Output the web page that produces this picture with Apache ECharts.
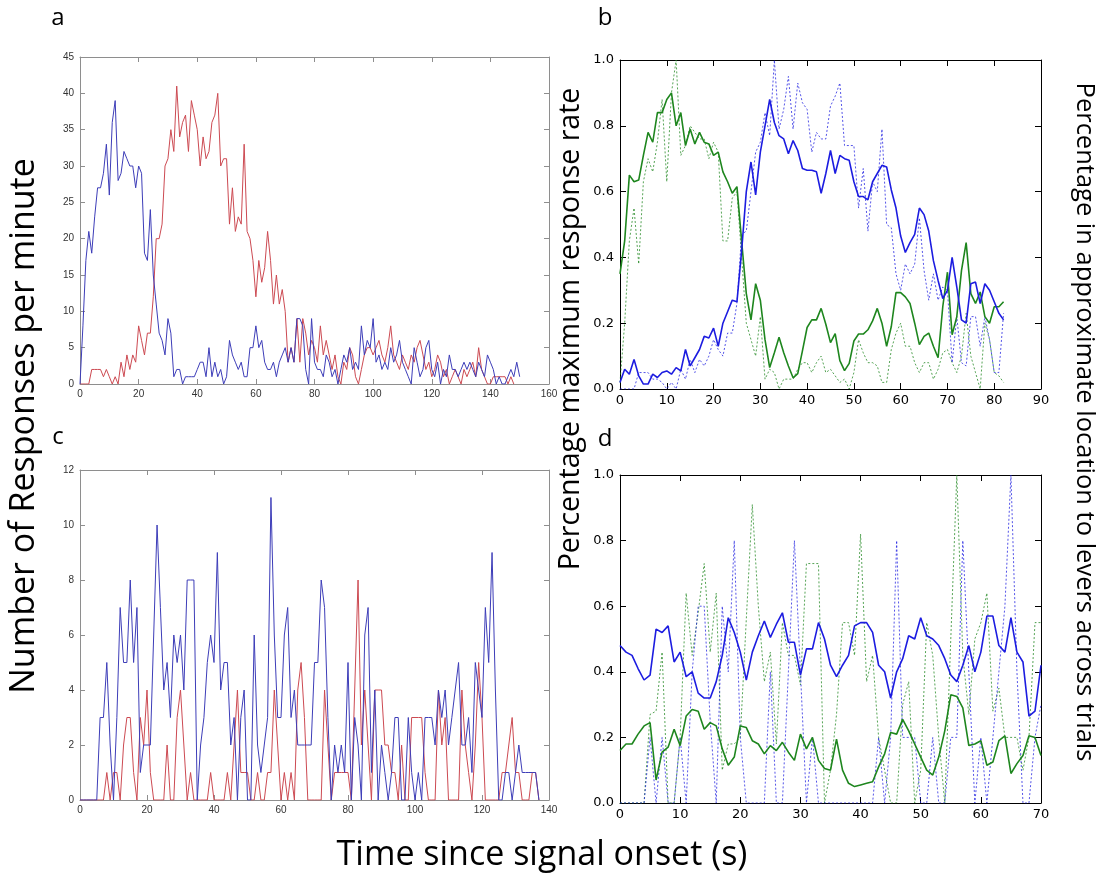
<!DOCTYPE html>
<html>
<head>
<meta charset="utf-8">
<script src="https://cdn.jsdelivr.net/npm/echarts@6/dist/echarts.min.js"></script>
<style>
  html, body { margin: 0; padding: 0; background: #fff; }
  #chart { width: 1104px; height: 874px; }
</style>
</head>
<body>
<div id="chart"></div>
<script>
// panel a: responses per minute, x = 0..150 s
var aBlue = [0,8,17,21,18,23,27,27,29,33, 26,36,39,28,29,32,31,30,30,27,
  30,29,18,17,24,15,11,7,6,4, 9,7,1,2,2,0,1,1,1,1, 2,3,3,1,5,1,3,1,2,0,
  1,6,4,3,2,3,1,1,5,5, 8,5,6,3,2,2,3,1,3,4, 5,3,5,3,9,9,8,2,0,9,
  3,2,2,1,4,3,1,2,0,2, 4,3,5,2,3,2,8,4,6,5, 9,3,4,2,3,2,5,3,4,6,
  3,2,1,0,5,3,1,2,5,6, 2,1,3,0,2,1,4,2,2,1, 2,3,2,3,2,1,3,2,1,4,
  3,2,0,1,0,0,1,2,1,3,1];
var aRed = [0,0,0,0,2,2,2,2,1,2, 1,0,1,0,3,1,4,2,4,3, 8,6,4,7,7,12,20,20,22,30,
  31,35,32,41,34,36,37,32,39,37, 35,30,34,31,32,36,37,40,30,31,
  31,22,27,21,23,22,33,21,20,17, 12,17,14,16,21,17,11,15,11,13,
  10,3,5,3,9,3,9,7,4,6, 5,3,8,4,6,4,2,4,1,0, 3,2,5,4,1,0,2,4,5,5,
  4,5,6,4,3,5,8,4,3,2, 4,3,2,4,3,5,6,4,2,3, 1,2,4,3,1,2,0,1,2,1,
  0,2,1,2,3,1,5,2,1,0, 0,1,1,1,1,1,0,1,0];

// panel c: responses per minute, x = 0..137 s
var cBlue = [0,0,0,0,0,0,3,3,5,2, 0,3,7,5,5,8,5,7,1,2, 2,2,6,10,7,4,5,3,6,5,
  6,4,8,8,8,0,2,3,5,6, 5,9,4,5,5,2,3,0,3,4, 0,0,6,2,1,2,3,11,6,3,
  3,6,7,3,4,2,2,2,2,2, 5,5,8,7,3,0,2,1,2,1, 5,0,3,2,0,6,7,1,4,0,
  2,1,0,1,3,3,0,0,3,1, 0,1,0,3,3,3,2,4,3,4, 2,3,4,5,2,2,3,1,5,4,
  3,7,5,9,4,0,0,1,1,0, 1,2,1,1,1,1,1,0];
var cRed = [0,0,0,0,0,0,0,0,1,0, 1,1,0,2,3,3,1,0,3,2, 4,1,0,0,0,0,2,0,0,3,
  4,2,0,1,0,0,0,0,0,1, 0,0,0,0,1,0,2,4,1,1, 1,0,0,1,0,0,1,1,4,2,
  0,1,0,1,0,4,5,3,0,0, 0,0,0,4,2,0,1,1,1,1, 1,0,4,8,2,4,2,0,4,4,
  4,2,2,1,1,0,2,0,0,3, 3,3,3,1,0,0,0,4,2,3, 0,0,0,0,4,2,1,0,2,5,
  3,0,0,0,0,0,1,1,2,3, 1,1,0,0,0,1,1,0];

// panel b: fraction of max response rate, x = 0..82
var bBlue = [0.02,0.06,0.045,0.09,0.04,0.015,0.015,0.045,0.035,0.05,
  0.055,0.045,0.065,0.055,0.12,0.07,0.095,0.12,0.16,0.155,
  0.185,0.13,0.2,0.235,0.27,0.265,0.42,0.6,0.69,0.59,
  0.72,0.8,0.88,0.81,0.77,0.76,0.715,0.755,0.725,0.67,
  0.665,0.665,0.66,0.595,0.655,0.725,0.655,0.71,0.7,0.695,
  0.63,0.585,0.585,0.575,0.63,0.655,0.68,0.675,0.605,0.55,
  0.465,0.415,0.445,0.47,0.55,0.53,0.48,0.39,0.33,0.275,
  0.3,0.4,0.31,0.21,0.2,0.32,0.325,0.26,0.32,0.3,
  0.265,0.23,0.21];
var bBlueDot = [0,0,0,0,0.05,0.05,0.05,0.03,0.03,0.02,
  0,0.02,0,0.06,0.03,0.09,0.05,0.09,0.07,0.1,
  0.15,0.12,0.1,0.17,0.17,0.26,0.47,0.48,0.6,0.72,
  0.75,0.84,0.77,1.0,0.79,0.85,0.95,0.79,0.93,0.87,
  0.85,0.72,0.78,0.76,0.76,0.86,0.89,0.93,0.74,0.74,
  0.74,0.55,0.67,0.48,0.63,0.6,0.79,0.5,0.49,0.35,
  0.3,0.38,0.35,0.38,0.52,0.36,0.27,0.35,0.27,0.31,
  0.3,0.08,0.22,0.08,0.07,0.22,0.22,0.13,0.22,0.15,
  0.05,0.05,0.23];
var bGreen = [0.35,0.45,0.65,0.63,0.635,0.71,0.78,0.75,0.84,0.84,
  0.88,0.9,0.8,0.84,0.74,0.79,0.745,0.78,0.75,0.745,
  0.71,0.72,0.66,0.63,0.595,0.615,0.45,0.29,0.21,0.32,
  0.27,0.15,0.065,0.11,0.157,0.11,0.07,0.034,0.047,0.116,
  0.187,0.21,0.21,0.245,0.197,0.141,0.168,0.086,0.056,0.078,
  0.146,0.167,0.167,0.18,0.207,0.245,0.2,0.13,0.19,0.293,
  0.293,0.28,0.26,0.2,0.135,0.16,0.17,0.13,0.095,0.25,
  0.355,0.165,0.22,0.36,0.445,0.29,0.26,0.295,0.22,0.2,
  0.25,0.25,0.265];
var bGreenDot = [0.02,0.2,0.45,0.55,0.38,0.63,0.7,0.66,0.75,0.88,
  0.63,0.9,1.0,0.71,0.74,0.8,0.78,0.76,0.76,0.7,
  0.75,0.72,0.45,0.45,0.58,0.6,0.4,0.2,0.15,0.1,
  0.22,0.03,0.06,0.05,0,0.03,0.03,0.03,0.06,0.08,
  0.08,0.05,0.08,0.1,0.05,0.06,0.04,0.02,0.03,0,
  0.05,0.15,0.11,0.08,0.08,0.07,0.02,0.02,0.12,0.17,
  0.2,0.13,0.13,0.08,0.05,0.08,0.08,0.03,0.06,0.11,
  0.12,0.08,0.05,0.1,0.23,0.1,0.05,0,0.2,0.15,
  0.05,0.04,0.02];

// panel d: percentage in location, x = 0..70
var dBlue = [0.48,0.46,0.45,0.41,0.375,0.39,0.53,0.52,0.54,0.43,
  0.46,0.385,0.4,0.335,0.32,0.32,0.37,0.45,0.565,0.52,
  0.46,0.375,0.46,0.51,0.555,0.505,0.545,0.58,0.49,0.49,
  0.39,0.47,0.47,0.55,0.5,0.42,0.385,0.42,0.45,0.54,
  0.55,0.55,0.52,0.42,0.4,0.32,0.4,0.44,0.51,0.5,
  0.565,0.51,0.5,0.48,0.44,0.39,0.37,0.42,0.48,0.4,
  0.46,0.57,0.57,0.48,0.46,0.565,0.46,0.43,0.265,0.28,
  0.42];
var dBlueDot = [0,0,0,0,0,0.2,0,0.2,0,0,
  0.2,0,0.4,0.6,0.6,0.25,0,0.6,0.4,0.8,
  0.2,0,0,0,0,0.4,0,0,0.4,0.8,
  0.4,0,0.2,0,0,0,0,0,0,0,
  0,0,0,0.2,0,0.2,0.8,0.2,0.2,0.2,
  0,0,0.2,0,0,0.2,0.2,0.8,0.4,0,
  0.2,0,0.2,0.4,0.6,1.0,0.4,0,0,0.2,
  0.3];
var dGreen = [0.16,0.18,0.18,0.21,0.235,0.245,0.07,0.155,0.17,0.225,
  0.175,0.265,0.285,0.28,0.225,0.245,0.235,0.165,0.115,0.14,
  0.235,0.23,0.19,0.18,0.15,0.175,0.16,0.185,0.155,0.13,
  0.21,0.165,0.2,0.13,0.105,0.1,0.195,0.1,0.06,0.05,
  0.055,0.06,0.065,0.11,0.15,0.215,0.21,0.255,0.22,0.18,
  0.14,0.1,0.085,0.14,0.22,0.33,0.325,0.29,0.175,0.18,
  0.19,0.115,0.125,0.19,0.205,0.09,0.12,0.145,0.205,0.2,
  0.145];
var dGreenDot = [0,0,0,0,0,0.27,0.28,0.46,0,0,
  0.2,0.64,0.45,0.58,0.73,0.46,0.64,0.1,0.18,0.18,
  0.2,0.56,0.91,0.6,0.37,0.46,0.18,0.55,0.45,0.45,
  0.36,0.73,0.73,0.73,0,0.1,0.27,0.55,0.55,0.45,
  0.82,0.37,0.45,0.2,0.1,0,0,0.3,0.37,0,
  0.1,0.55,0.45,0.2,0,0.5,1.0,0.45,0.27,0.5,
  0.55,0.64,0.28,0.35,0.2,0.2,0.2,0.1,0.2,0.55,
  0.55];

var chart = echarts.init(document.getElementById('chart'));

var grids = [
  {left: 80, top: 57, width: 469, height: 327},   // a
  {left: 620, top: 60, width: 421, height: 329},  // b
  {left: 80, top: 470, width: 469, height: 330},  // c
  {left: 620, top: 475, width: 421, height: 328}  // d
];

// matlab-ish look for a/c, matplotlib-ish for b/d
var mat = {line: '#8e8e8e', text: '#333', size: 10, font: 'Liberation Sans', tick: 5};
var mpl = {line: '#000', text: '#000', size: 13, font: 'DejaVu Sans', tick: 6};

var xAxes = [], yAxes = [];
function addAxes(gi, st, xmax, xint, ymax, yint, yfmt) {
  [false, true].forEach(function (twin) {
    xAxes.push({
      type: 'value', gridIndex: gi, min: 0, max: xmax, interval: xint,
      position: twin ? 'top' : 'bottom',
      axisLine: {show: true, onZero: false, lineStyle: {color: st.line, width: 1}},
      axisTick: {inside: true, length: st.tick, lineStyle: {color: st.line}},
      axisLabel: {show: !twin, color: st.text, fontSize: st.size, fontFamily: st.font, margin: 5},
      splitLine: {show: false}
    });
    yAxes.push({
      type: 'value', gridIndex: gi, min: 0, max: ymax, interval: yint,
      position: twin ? 'right' : 'left',
      axisLine: {show: true, onZero: false, lineStyle: {color: st.line, width: 1}},
      axisTick: {inside: true, length: st.tick, lineStyle: {color: st.line}},
      axisLabel: {show: !twin, color: st.text, fontSize: st.size, fontFamily: st.font, margin: 6,
        formatter: yfmt},
      splitLine: {show: false}
    });
  });
}
addAxes(0, mat, 160, 20, 45, 5);
addAxes(1, mpl, 90, 10, 1, 0.2, function (v) { return v.toFixed(1); });
addAxes(2, mat, 140, 20, 12, 2);
addAxes(3, mpl, 70, 10, 1, 0.2, function (v) { return v.toFixed(1); });

function pts(arr) { return arr.map(function (v, i) { return [i, v]; }); }
function line(axis, arr, color, width, dotted, opacity) {
  return {
    type: 'line', xAxisIndex: axis, yAxisIndex: axis, data: pts(arr),
    showSymbol: false, symbol: 'none', silent: true,
    lineStyle: {color: color, width: width, type: dotted ? [2, 2] : 'solid', opacity: opacity || 1}
  };
}

var blueM = '#3d3db8', redM = '#cc4a52';
var blueP = '#1c1ce0', greenP = '#1e861e';

var series = [
  line(0, aRed, redM, 1), line(0, aBlue, blueM, 1),
  line(2, bGreenDot, greenP, 1, true, 0.75), line(2, bBlueDot, blueP, 1, true, 0.75),
  line(2, bGreen, greenP, 1.6), line(2, bBlue, blueP, 1.6),
  line(4, cRed, redM, 1), line(4, cBlue, blueM, 1),
  line(6, dGreenDot, greenP, 1, true, 0.75), line(6, dBlueDot, blueP, 1, true, 0.75),
  line(6, dGreen, greenP, 1.6), line(6, dBlue, blueP, 1.6)
];

var labFont = '"Open Sans", "Noto Sans", sans-serif';
function txt(x, y, s, size, rot) {
  return {type: 'text', x: x, y: y, rotation: rot || 0, silent: true,
    style: {text: s, fontSize: size, fontFamily: labFont, fill: '#000',
      textAlign: 'center', textVerticalAlign: 'middle'}};
}

chart.setOption({
  animation: false,
  backgroundColor: '#fff',
  grid: grids,
  xAxis: xAxes,
  yAxis: yAxes,
  series: series,
  graphic: [
    txt(58, 18, 'a', 24), txt(605, 18, 'b', 24), txt(58, 437, 'c', 24), txt(605, 439, 'd', 24),
    txt(24, 426, 'Number of Responses per minute', 34, Math.PI / 2),
    txt(571, 329, 'Percentage maximum response rate', 28.5, Math.PI / 2),
    txt(1084, 422, 'Percentage in approximate location to levers across trials', 25.5, -Math.PI / 2),
    txt(542, 855, 'Time since signal onset (s)', 34)
  ]
});
</script>
</body>
</html>
